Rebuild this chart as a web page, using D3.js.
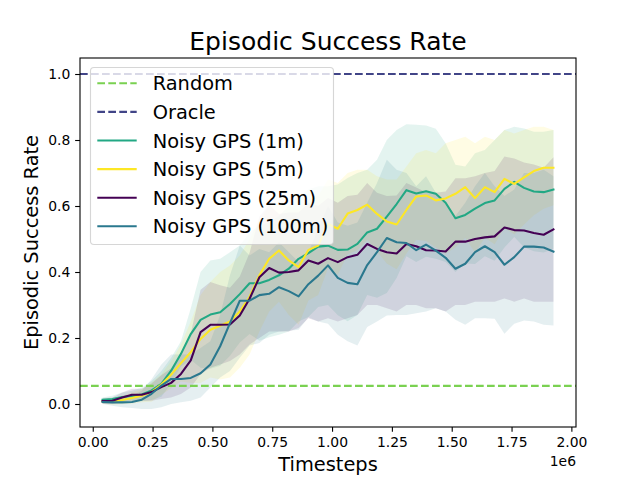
<!DOCTYPE html>
<html>
<head>
<meta charset="utf-8">
<script src="https://cdn.jsdelivr.net/npm/d3@7"></script>
<style>
  html, body { margin: 0; padding: 0; background: #ffffff; }
  svg { display: block; font-family: "DejaVu Sans", sans-serif; }
</style>
</head>
<body>
<svg id="chart" width="640" height="480"></svg>
<script>
// ---------------- data ----------------
const timesteps = [40960, 81920, 122880, 163840, 204800, 245760, 286720, 327680, 368640, 409600,
  450560, 491520, 532480, 573440, 614400, 655360, 696320, 737280, 778240, 819200,
  860160, 901120, 942080, 983040, 1024000, 1064960, 1105920, 1146880, 1187840, 1228800,
  1269760, 1310720, 1351680, 1392640, 1433600, 1474560, 1515520, 1556480, 1597440, 1638400,
  1679360, 1720320, 1761280, 1802240, 1843200, 1884160, 1925120];

const xTicks = [0, 250000, 500000, 750000, 1000000, 1250000, 1500000, 1750000, 2000000];
const yTicks = [0.0, 0.2, 0.4, 0.6, 0.8, 1.0];

const randomRate = 0.055;
const oracleRate = 1.0;

const seriesNames = ["Noisy GPS (1m)", "Noisy GPS (5m)", "Noisy GPS (25m)", "Noisy GPS (100m)"];

const mean1m = [0.013, 0.015, 0.021, 0.024, 0.029, 0.041, 0.061, 0.101, 0.152, 0.212,
  0.255, 0.271, 0.278, 0.303, 0.333, 0.366, 0.366, 0.376, 0.390, 0.410,
  0.440, 0.457, 0.477, 0.480, 0.467, 0.468, 0.485, 0.520, 0.531, 0.568,
  0.606, 0.648, 0.638, 0.645, 0.637, 0.610, 0.563, 0.573, 0.592, 0.609,
  0.617, 0.652, 0.673, 0.655, 0.644, 0.642, 0.650];
const upper1m = [0.020, 0.025, 0.035, 0.040, 0.050, 0.070, 0.100, 0.140, 0.190, 0.290,
  0.400, 0.435, 0.440, 0.460, 0.480, 0.520, 0.540, 0.550, 0.570, 0.600,
  0.630, 0.650, 0.660, 0.660, 0.665, 0.685, 0.700, 0.710, 0.740, 0.800,
  0.830, 0.848, 0.846, 0.844, 0.834, 0.790, 0.725, 0.720, 0.760, 0.770,
  0.800, 0.830, 0.840, 0.835, 0.825, 0.825, 0.830];
const lower1m = [0.006, 0.005, 0.007, 0.008, 0.008, 0.012, 0.022, 0.062, 0.114, 0.134,
  0.110, 0.107, 0.116, 0.146, 0.186, 0.212, 0.192, 0.202, 0.210, 0.220,
  0.250, 0.264, 0.294, 0.300, 0.269, 0.251, 0.270, 0.330, 0.322, 0.336,
  0.382, 0.448, 0.430, 0.446, 0.440, 0.430, 0.400, 0.426, 0.424, 0.448,
  0.434, 0.474, 0.506, 0.475, 0.463, 0.459, 0.470];

const mean5m = [0.008, 0.008, 0.012, 0.018, 0.025, 0.036, 0.059, 0.089, 0.124, 0.157,
  0.197, 0.225, 0.237, 0.250, 0.280, 0.325, 0.390, 0.440, 0.465, 0.435,
  0.415, 0.467, 0.480, 0.546, 0.531, 0.577, 0.588, 0.604, 0.576, 0.553,
  0.544, 0.588, 0.629, 0.632, 0.617, 0.623, 0.637, 0.657, 0.624, 0.657,
  0.642, 0.682, 0.667, 0.687, 0.706, 0.716, 0.716];
const upper5m = [0.015, 0.018, 0.025, 0.035, 0.045, 0.065, 0.090, 0.130, 0.180, 0.250,
  0.330, 0.370, 0.400, 0.420, 0.450, 0.500, 0.560, 0.600, 0.620, 0.600,
  0.590, 0.620, 0.630, 0.680, 0.670, 0.700, 0.710, 0.710, 0.690, 0.680,
  0.680, 0.720, 0.760, 0.770, 0.760, 0.790, 0.800, 0.810, 0.790, 0.810,
  0.800, 0.830, 0.820, 0.830, 0.840, 0.840, 0.830];
const lower5m = [0.001, -0.002, -0.001, 0.001, 0.005, 0.007, 0.028, 0.048, 0.068, 0.064,
  0.064, 0.080, 0.074, 0.080, 0.110, 0.150, 0.220, 0.280, 0.310, 0.270,
  0.240, 0.314, 0.330, 0.412, 0.392, 0.454, 0.466, 0.498, 0.462, 0.426,
  0.408, 0.456, 0.498, 0.494, 0.474, 0.456, 0.474, 0.504, 0.458, 0.504,
  0.484, 0.534, 0.514, 0.544, 0.572, 0.592, 0.602];

const mean25m = [0.009, 0.010, 0.020, 0.028, 0.028, 0.036, 0.051, 0.064, 0.091, 0.132,
  0.218, 0.240, 0.240, 0.241, 0.268, 0.319, 0.384, 0.412, 0.398, 0.400,
  0.405, 0.435, 0.425, 0.442, 0.430, 0.445, 0.452, 0.485, 0.470, 0.460,
  0.456, 0.485, 0.478, 0.466, 0.465, 0.462, 0.492, 0.492, 0.500, 0.505,
  0.508, 0.535, 0.527, 0.526, 0.518, 0.513, 0.529];
const upper25m = [0.018, 0.020, 0.035, 0.046, 0.046, 0.062, 0.087, 0.108, 0.152, 0.214,
  0.346, 0.370, 0.360, 0.352, 0.386, 0.458, 0.568, 0.604, 0.576, 0.580,
  0.580, 0.610, 0.600, 0.624, 0.610, 0.630, 0.634, 0.670, 0.640, 0.630,
  0.632, 0.670, 0.656, 0.642, 0.640, 0.644, 0.684, 0.684, 0.690, 0.700,
  0.706, 0.750, 0.744, 0.732, 0.726, 0.716, 0.748];
const lower25m = [0.000, 0.000, 0.005, 0.010, 0.010, 0.010, 0.015, 0.020, 0.030, 0.050,
  0.090, 0.110, 0.120, 0.130, 0.150, 0.180, 0.200, 0.220, 0.220, 0.220,
  0.230, 0.260, 0.250, 0.260, 0.250, 0.260, 0.270, 0.300, 0.300, 0.290,
  0.280, 0.300, 0.300, 0.290, 0.290, 0.280, 0.300, 0.300, 0.310, 0.310,
  0.310, 0.320, 0.310, 0.320, 0.310, 0.310, 0.310];

const mean100m = [0.006, 0.005, 0.005, 0.006, 0.013, 0.031, 0.056, 0.076, 0.076, 0.079,
  0.093, 0.120, 0.175, 0.245, 0.313, 0.313, 0.330, 0.334, 0.354, 0.342,
  0.326, 0.363, 0.389, 0.420, 0.382, 0.367, 0.363, 0.421, 0.460, 0.503,
  0.490, 0.488, 0.466, 0.483, 0.465, 0.443, 0.410, 0.425, 0.460, 0.478,
  0.460, 0.422, 0.445, 0.477, 0.477, 0.474, 0.462];
const upper100m = [0.012, 0.015, 0.020, 0.025, 0.040, 0.075, 0.120, 0.150, 0.150, 0.150,
  0.170, 0.190, 0.270, 0.390, 0.480, 0.450, 0.470, 0.460, 0.490, 0.460,
  0.430, 0.460, 0.530, 0.600, 0.550, 0.540, 0.550, 0.610, 0.670, 0.740,
  0.710, 0.700, 0.660, 0.690, 0.640, 0.610, 0.570, 0.610, 0.660, 0.700,
  0.660, 0.630, 0.650, 0.700, 0.700, 0.710, 0.690];
const lower100m = [0.000, -0.005, -0.010, -0.012, -0.015, -0.015, -0.010, 0.000, 0.005, 0.010,
  0.020, 0.050, 0.080, 0.100, 0.140, 0.177, 0.185, 0.210, 0.220, 0.222,
  0.225, 0.263, 0.250, 0.243, 0.210, 0.190, 0.177, 0.233, 0.250, 0.268,
  0.270, 0.270, 0.275, 0.280, 0.290, 0.280, 0.255, 0.240, 0.260, 0.260,
  0.258, 0.213, 0.243, 0.253, 0.250, 0.240, 0.238];

// ---------------- build ----------------
const colors = {
  random: "#7ad151", oracle: "#414487",
  s1: "#22a884", s5: "#fde725", s25: "#440154", s100: "#2a788e"
};
const series = [
  { name: seriesNames[0], mean: mean1m, lo: lower1m, hi: upper1m, color: colors.s1 },
  { name: seriesNames[1], mean: mean5m, lo: lower5m, hi: upper5m, color: colors.s5 },
  { name: seriesNames[2], mean: mean25m, lo: lower25m, hi: upper25m, color: colors.s25 },
  { name: seriesNames[3], mean: mean100m, lo: lower100m, hi: upper100m, color: colors.s100 }
];

const L = 80, R = 576, T = 58, B = 427;
const svg = d3.select("#chart");
const fontTick = 13.9, fontLabel = 19.4, fontTitle = 25;

const x = d3.scaleLinear().domain([-53248, 2019328]).range([L, R]);
const y = d3.scaleLinear().domain([-0.0697, 1.0485]).range([B, T]);

svg.append("defs").append("clipPath").attr("id", "clip")
  .append("rect").attr("x", L).attr("y", T).attr("width", R - L).attr("height", B - T);

const plot = svg.append("g").attr("clip-path", "url(#clip)");

// bands
series.forEach(s => {
  const area = d3.area()
    .x((d, i) => x(timesteps[i]))
    .y0((d, i) => y(s.lo[i]))
    .y1((d, i) => y(s.hi[i]));
  plot.append("path").datum(s.mean).attr("d", area)
    .attr("fill", s.color).attr("fill-opacity", 0.12).attr("stroke", "none");
});

// reference lines
const lw = 2.08;
[[randomRate, colors.random], [oracleRate, colors.oracle]].forEach(([v, c]) => {
  plot.append("line").attr("x1", L).attr("x2", R).attr("y1", y(v)).attr("y2", y(v))
    .attr("stroke", c).attr("stroke-width", lw).attr("stroke-dasharray", "7.7,3.3");
});

// mean lines
series.forEach(s => {
  const line = d3.line().x((d, i) => x(timesteps[i])).y(d => y(d));
  plot.append("path").datum(s.mean).attr("d", line)
    .attr("fill", "none").attr("stroke", s.color).attr("stroke-width", lw)
    .attr("stroke-linejoin", "round").attr("stroke-linecap", "square");
});

// axes
const xAxis = d3.axisBottom(x).tickValues(xTicks)
  .tickFormat(d => (d / 1e6).toFixed(2)).tickSize(4.86).tickPadding(4.86).tickSizeOuter(0);
const gx = svg.append("g").attr("transform", `translate(0,${B})`).call(xAxis);
const yAxis = d3.axisLeft(y).tickValues(yTicks)
  .tickFormat(d => d.toFixed(1)).tickSize(4.86).tickPadding(4.86).tickSizeOuter(0);
const gy = svg.append("g").attr("transform", `translate(${L},0)`).call(yAxis);
[gx, gy].forEach(g => {
  g.select(".domain").remove();
  g.selectAll(".tick line").attr("stroke", "#000").attr("stroke-width", 1.1);
  g.selectAll(".tick text").attr("fill", "#000")
    .style("font-family", "DejaVu Sans").style("font-size", fontTick + "px");
});

// frame
svg.append("rect").attr("x", L).attr("y", T).attr("width", R - L).attr("height", B - T)
  .attr("fill", "none").attr("stroke", "#000").attr("stroke-width", 1.1);

// offset text
svg.append("text").attr("x", R).attr("y", 466).attr("text-anchor", "end")
  .style("font-size", fontTick + "px").text("1e6");

// labels
svg.append("text").attr("x", (L + R) / 2).attr("y", 49.5).attr("text-anchor", "middle")
  .style("font-size", fontTitle + "px").text("Episodic Success Rate");
svg.append("text").attr("x", (L + R) / 2).attr("y", 471).attr("text-anchor", "middle")
  .style("font-size", fontLabel + "px").text("Timesteps");
svg.append("text").attr("transform", `translate(38,${(T + B) / 2}) rotate(-90)`)
  .attr("text-anchor", "middle")
  .style("font-size", fontLabel + "px").text("Episodic Success Rate");

// legend
const legendItems = [
  { name: "Random", color: colors.random, dash: true },
  { name: "Oracle", color: colors.oracle, dash: true },
  ...series.map(s => ({ name: s.name, color: s.color, dash: false }))
];
const lg = svg.append("g");
lg.append("rect").attr("x", 90.5).attr("y", 67.5).attr("width", 243).attr("height", 177)
  .attr("rx", 3.5).attr("fill", "#fff").attr("fill-opacity", 0.8)
  .attr("stroke", "#cccccc").attr("stroke-opacity", 0.8).attr("stroke-width", 1.1);
legendItems.forEach((it, i) => {
  const cy = 83.3 + i * 28.6;
  lg.append("line").attr("x1", 97.3).attr("x2", 136.7).attr("y1", cy).attr("y2", cy)
    .attr("stroke", it.color).attr("stroke-width", lw)
    .attr("stroke-dasharray", it.dash ? "7.7,3.3" : null);
  lg.append("text").attr("x", 152.7).attr("y", cy + 7)
    .style("font-size", fontLabel + "px").text(it.name);
});
</script>
</body>
</html>
